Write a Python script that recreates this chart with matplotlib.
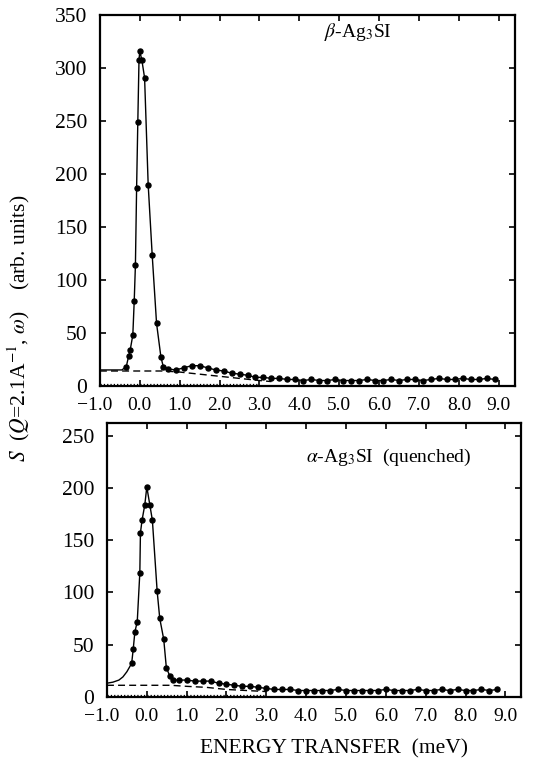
import matplotlib.pyplot as plt
from matplotlib.transforms import ScaledTranslation

plt.rcParams['font.family'] = ['Liberation Serif', 'DejaVu Serif']
plt.rcParams['mathtext.fontset'] = 'stix'

# beta-Ag3SI (top panel)
beta_lead_x = [-1.0, -0.7, -0.45]
beta_lead_y = [15, 15, 15]
beta_x = [-0.34, -0.28, -0.24, -0.175, -0.14, -0.11, -0.08, -0.05, -0.02, 0.0, 0.05, 0.12,
          0.21, 0.31, 0.42, 0.53, 0.59]
beta_y = [18, 28, 34, 48, 80, 114, 187, 249, 308, 316, 308, 291, 190, 124, 59, 27, 18]
beta_tail_x = [0.7, 0.9, 1.1, 1.3, 1.5, 1.7, 1.9, 2.1, 2.3, 2.5, 2.7, 2.9, 3.1, 3.3, 3.5,
               3.7, 3.9, 4.1, 4.3, 4.5, 4.7, 4.9, 5.1, 5.3, 5.5, 5.7, 5.9, 6.1, 6.3, 6.5,
               6.7, 6.9, 7.1, 7.3, 7.5, 7.7, 7.9, 8.1, 8.3, 8.5, 8.7, 8.9]
beta_tail_y = [16, 15, 17, 19, 19, 17, 15, 14, 12, 11, 10, 8, 8, 7, 7,
               6, 6, 5, 6, 5, 5, 6, 5, 5, 5, 6, 5, 5, 6, 5,
               6, 6, 5, 6, 7, 6, 6, 7, 6, 6, 7, 6]
beta_base_x = [-1.0, 0.6, 1.0, 1.5, 2.0, 2.5, 3.0, 3.3]
beta_base_y = [14, 14, 13, 11, 9, 7, 5, 4]

# alpha-Ag3SI quenched (bottom panel)
alpha_lead_x = [-1.0, -0.85, -0.7, -0.6, -0.5]
alpha_lead_y = [13, 14, 16, 19, 24]
alpha_x = [-0.38, -0.34, -0.30, -0.24, -0.175, -0.16, -0.12, -0.05, 0.0, 0.075, 0.14,
           0.26, 0.325, 0.425, 0.49, 0.575, 0.66]
alpha_y = [32, 46, 62, 72, 119, 157, 169, 184, 201, 184, 169, 101, 75, 55, 28, 20, 16]
alpha_tail_x = [0.8, 1.0, 1.2, 1.4, 1.6, 1.8, 2.0, 2.2, 2.4, 2.6, 2.8, 3.0, 3.2, 3.4,
                3.6, 3.8, 4.0, 4.2, 4.4, 4.6, 4.8, 5.0, 5.2, 5.4, 5.6, 5.8, 6.0, 6.2,
                6.4, 6.6, 6.8, 7.0, 7.2, 7.4, 7.6, 7.8, 8.0, 8.2, 8.4, 8.6, 8.8]
alpha_tail_y = [16, 16, 15, 15, 15, 13, 12, 11, 10, 10, 9, 8, 7, 7,
                7, 6, 6, 6, 6, 6, 7, 6, 6, 6, 6, 6, 7, 6,
                6, 6, 7, 6, 6, 7, 6, 7, 6, 6, 7, 6, 7]
alpha_base_x = [-1.0, 0.6, 1.0, 1.5, 2.0, 2.5, 3.0]
alpha_base_y = [11, 11, 10, 9, 7, 6, 5]

xticks = [-1.0, 0.0, 1.0, 2.0, 3.0, 4.0, 5.0, 6.0, 7.0, 8.0, 9.0]
xlabels = ['\u22121.0', '0.0', '1.0', '2.0', '3.0', '4.0', '5.0', '6.0', '7.0', '8.0', '9.0']

fig = plt.figure(figsize=(5.43, 7.64), dpi=100)
ax1 = fig.add_axes([0.184, 0.495, 0.764, 0.485])
ax2 = fig.add_axes([0.197, 0.088, 0.763, 0.358])


def draw(ax, lx, ly, px, py, tx, ty, bx, by, ymax, yticks, label, lpos):
    ax.plot(lx + px + tx, ly + py + ty, color='black', lw=1.0)
    ax.plot(px + tx, py + ty, 'o', color='black', ms=3.6)
    ax.plot(bx, by, color='black', lw=1.0, ls=(0, (5, 3)))
    ax.plot([-1.0, 3.0], [2, 2], color='black', lw=0.9, ls=':')
    ax.set_xlim(-1.0, 9.4)
    ax.set_ylim(0, ymax)
    ax.set_xticks(xticks)
    ax.set_xticklabels(xlabels)
    ax.set_yticks(yticks)
    ax.tick_params(direction='in', top=True, right=True, length=4, width=1.2)
    ax.tick_params(axis='x', labelsize=14, pad=8)
    ax.tick_params(axis='y', labelsize=15.5, pad=9)
    for s in ax.spines.values():
        s.set_linewidth(1.6)
    ax.text(lpos[0], lpos[1], label, transform=ax.transAxes, fontsize=14,
            ha='left', va='center')
    # nudge the -1.0 label left so it clears 0.0
    lab = ax.get_xticklabels()[0]
    lab.set_transform(lab.get_transform() + ScaledTranslation(-4 / 72, 0, fig.dpi_scale_trans))


draw(ax1, beta_lead_x, beta_lead_y, beta_x, beta_y, beta_tail_x, beta_tail_y,
     beta_base_x, beta_base_y, 350, [0, 50, 100, 150, 200, 250, 300, 350],
     r'$\beta$-Ag$_3$SI', (0.54, 0.955))
draw(ax2, alpha_lead_x, alpha_lead_y, alpha_x, alpha_y, alpha_tail_x, alpha_tail_y,
     alpha_base_x, alpha_base_y, 262, [0, 50, 100, 150, 200, 250],
     r'$\alpha$-Ag$_3$SI  (quenched)', (0.48, 0.875))

fig.text(0.035, 0.57, r'$S$  ($Q$=2.1A$^{-1}$, $\omega$)    (arb. units)', rotation=90,
         fontsize=15.5, ha='center', va='center')
fig.text(0.615, 0.02, 'ENERGY TRANSFER  (meV)', fontsize=15.5, ha='center', va='center')

fig.savefig('out.png', dpi=100)
